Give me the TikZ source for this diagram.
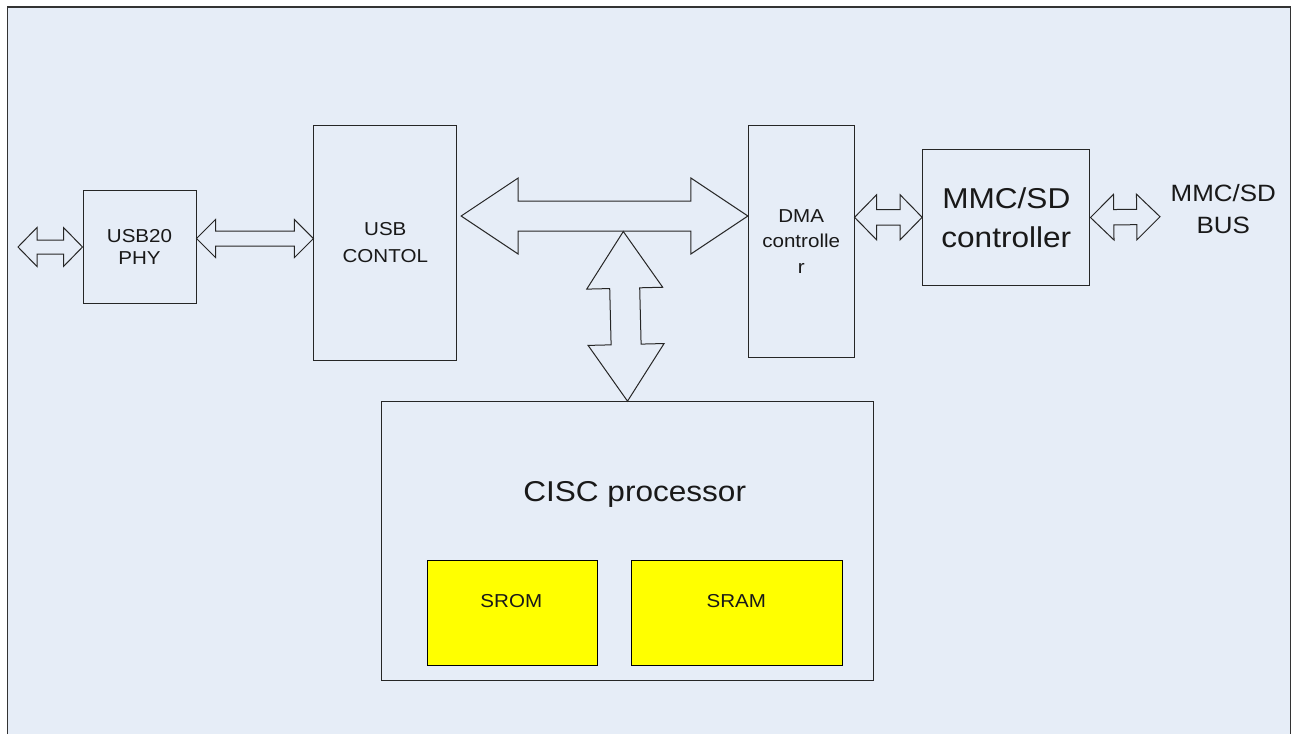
\documentclass[tikz,border=0pt]{standalone}
\usepackage{fontspec}
\setmainfont{Liberation Sans}[FakeStretch=1.1]
\usetikzlibrary{calc}

\definecolor{panel}{HTML}{E6EDF7}
\definecolor{memfill}{HTML}{FFFF00}

\tikzset{
  % wide two-headed bus arrow: shaft half width, head half width, head length
  bus/.style n args={3}{to path={
    -- ($($(\tikztostart)!#3!(\tikztotarget)$)!#2!90:(\tikztotarget)$)
    -- ($($(\tikztostart)!#3!(\tikztotarget)$)!#1!90:(\tikztotarget)$)
    -- ($($(\tikztotarget)!#3!(\tikztostart)$)!#1!-90:(\tikztostart)$)
    -- ($($(\tikztotarget)!#3!(\tikztostart)$)!#2!-90:(\tikztostart)$)
    -- (\tikztotarget)
    -- ($($(\tikztotarget)!#3!(\tikztostart)$)!#2!90:(\tikztostart)$)
    -- ($($(\tikztotarget)!#3!(\tikztostart)$)!#1!90:(\tikztostart)$)
    -- ($($(\tikztostart)!#3!(\tikztotarget)$)!#1!-90:(\tikztotarget)$)
    -- ($($(\tikztostart)!#3!(\tikztotarget)$)!#2!-90:(\tikztotarget)$)
    -- cycle}},
  small/.style={font=\fontsize{18.7}{22}\selectfont},
  big/.style={font=\fontsize{28.7}{39}\selectfont},
}

\begin{document}
\begin{tikzpicture}[x=1pt,y=-1pt,line width=1pt]
  \useasboundingbox (0,0) rectangle (1295,734);
  \fill[panel] (7.5,7) rectangle (1290.5,734);
  \draw[black!80,line width=1.5pt] (7.5,734) -- (7.5,7) -- (1290.5,7) -- (1290.5,734);

  \begin{scope}[every node/.style={draw=black!85,fill=panel,inner sep=0pt,align=center,text=black!90}]
    \node[small,minimum width=113pt,minimum height=113pt] (phy) at (139.5,246.5) {USB20\\PHY};
    \node[small,font=\fontsize{18.7}{26.5}\selectfont,minimum width=142.7pt,minimum height=235pt] (usbctl) at (385.3,242.5) {USB\\CONTOL};
    \node[small,font=\fontsize{18.7}{25.5}\selectfont,minimum width=105.7pt,minimum height=231.6pt] (dma) at (801.2,241.5) {DMA\\controlle\\r};
    \node[big,minimum width=167.3pt,minimum height=136.4pt] (mmc) at (1006.3,217.5) {MMC/SD\\controller};
    \node[minimum width=491.6pt,minimum height=279.3pt] (cisc) at (627.5,541.3) {};
    \node[fill=memfill,draw=black,minimum width=170pt,minimum height=105.3pt] (srom) at (512.3,613.3) {};
    \node[fill=memfill,draw=black,minimum width=211.4pt,minimum height=105.3pt] (sram) at (737,613.3) {};
  \end{scope}

  \begin{scope}[every node/.style={text=black!90,inner sep=0pt}]
    \node[big,anchor=base] (cisctxt) at (634.7,501.7) {CISC processor};
    \node[small,anchor=base] (sromtxt) at (511.3,607.3) {SROM};
    \node[small,anchor=base] (sramtxt) at (736.3,607.3) {SRAM};
    \node[align=center,font=\fontsize{23.6}{31.5}\selectfont] (buslbl) at (1223.3,209) {MMC/SD\\BUS};
  \end{scope}

  \coordinate (usbin) at (18,247);
  \coordinate (busout) at (1160,216.7);
  \coordinate (tee) at (623.3,231.5);

  \begin{scope}[draw=black!85]
    \draw[bus={7pt}{19.5pt}{19pt}] (usbin) to (phy.west |- usbin);
    \draw[bus={7.5pt}{19pt}{19pt}] ([yshift=8pt]phy.east) to ([yshift=4pt]usbctl.west);
    \draw[bus={15pt}{38pt}{57pt}] ([xshift=4pt,yshift=26.5pt]usbctl.east) to ([yshift=25.5pt]dma.west);
    \draw[bus={15pt}{38pt}{56.7pt}] (tee) to (cisc.north);
    \draw[bus={7.8pt}{22.5pt}{22pt}] ([yshift=24.2pt]dma.east) to ([yshift=0.2pt]mmc.west);
    \draw[bus={7.7pt}{22.8pt}{23.3pt}] (mmc.east) to (busout);
  \end{scope}
\end{tikzpicture}
\end{document}
